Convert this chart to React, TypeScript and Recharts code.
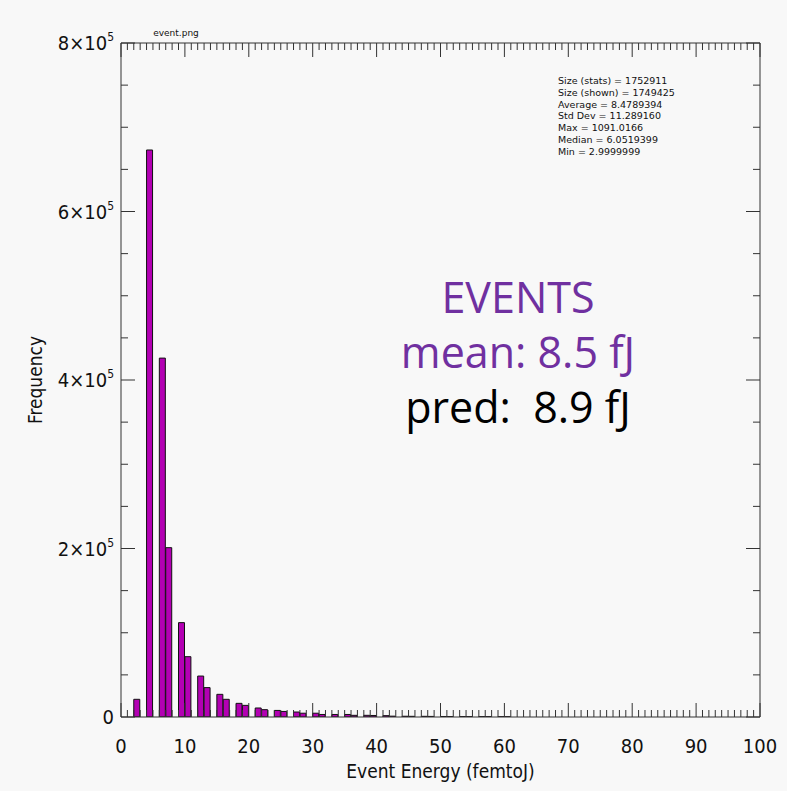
import { BarChart, Bar, XAxis, YAxis, ReferenceLine } from "recharts";

// histogram bins (lower edge, femtoJ) and their counts
const binStart = [
  2, 4, 6, 7, 9, 10, 12, 13, 15, 16, 18, 19, 21, 22, 24, 25, 27, 28, 30, 31,
  33, 35, 36, 38, 39, 41, 42, 44, 45, 47, 48, 50, 51, 53, 54, 56, 57, 59, 60,
];
const counts = [
  21000, 673000, 426000, 201000, 112000, 71600, 48600, 34900, 26900, 21000,
  16200, 13800, 10700, 8700, 7800, 6600, 5900, 4500, 4500, 3000, 3000, 3000,
  2000, 2000, 1800, 1600, 1000, 900, 800, 800, 700, 600, 500, 500, 400, 400,
  350, 300, 250,
];

// every 1 fJ gets a tick, the tens are major and labelled
const xTicks = Array.from({ length: 101 }, (_, i) => i);
const xMajorStep = 10;
// every 5e4 gets a tick, every 2e5 is major and labelled
const yTicks = Array.from({ length: 17 }, (_, i) => i * 50000);
const yMajorStep = 200000;
const yMax = 800000;

const statLines = [
  "Size (stats) = 1752911",
  "Size (shown) = 1749425",
  "Average = 8.4789394",
  "Std Dev = 11.289160",
  "Max = 1091.0166",
  "Median = 6.0519399",
  "Min = 2.9999999",
];

const rows = binStart.map((b, i) => ({ x: b + 0.5, count: counts[i] }));

const FONT = "'DejaVu Sans Condensed', 'DejaVu Sans', sans-serif";
const AXIS = "#333";
const MAJOR = 14;
const MINOR = 7;
const PLOT_TOP = 43;

// tick marks point into the plot; the tick anchor sits on the axis line
const tickLen = (v: number, step: number) => (v % step === 0 ? MAJOR : MINOR);

// bottom axis also draws the matching inward ticks along the top edge of the box
const BottomTick = ({ x, y, payload }: any) => {
  const v = payload.value;
  const len = tickLen(v, xMajorStep);
  return (
    <g>
      <line x1={x} x2={x} y1={y} y2={y - len} stroke={AXIS} />
      <line x1={x} x2={x} y1={PLOT_TOP} y2={PLOT_TOP + len} stroke={AXIS} />
      {v % xMajorStep === 0 && (
        <text x={x} y={y + 36} textAnchor="middle" fontFamily={FONT} fontSize={20} fill="#111">
          {v}
        </text>
      )}
    </g>
  );
};

const LeftTick = ({ x, y, payload }: any) => {
  const v = payload.value;
  const major = v % yMajorStep === 0;
  return (
    <g>
      <line x1={x} x2={x + tickLen(v, yMajorStep)} y1={y} y2={y} stroke={AXIS} />
      {major && v === 0 && (
        <text x={x - 7} y={y + 7} textAnchor="end" fontFamily={FONT} fontSize={20} fill="#111">
          0
        </text>
      )}
      {major && v !== 0 && (
        <text x={x - 7} y={y + 7} textAnchor="end" fontFamily={FONT} fontSize={20} fill="#111">
          {`${v / 100000}×10`}
          <tspan dy={-9} fontSize={12}>5</tspan>
        </text>
      )}
    </g>
  );
};

const RightTick = ({ x, y, payload }: any) => (
  <line x1={x} x2={x - tickLen(payload.value, yMajorStep)} y1={y} y2={y} stroke={AXIS} />
);

const YLabel = ({ viewBox }: any) => {
  const cx = 42;
  const cy = viewBox.y + viewBox.height / 2;
  return (
    <text x={cx} y={cy} transform={`rotate(-90 ${cx} ${cy})`} textAnchor="middle" fontFamily={FONT} fontSize={19} fill="#111">
      Frequency
    </text>
  );
};

const XLabel = ({ viewBox }: any) => (
  <text x={viewBox.x + viewBox.width / 2} y={778} textAnchor="middle" fontFamily={FONT} fontSize={19} fill="#111">
    Event Energy (femtoJ)
  </text>
);

export default function App() {
  return (
    <div style={{ position: "absolute", left: 0, top: 0, width: 787, height: 791, background: "#f8f8f8" }}>
      <BarChart
        width={787}
        height={791}
        data={rows}
        margin={{ top: PLOT_TOP, right: 26, bottom: 0, left: 0 }}
        barCategoryGap={0}
        barGap={0}
      >
        <XAxis
          xAxisId="main"
          dataKey="x"
          type="number"
          domain={[0, 100]}
          allowDataOverflow
          ticks={xTicks}
          interval={0}
          height={74}
          tickSize={0}
          tickMargin={0}
          tickLine={false}
          tick={<BottomTick />}
          stroke={AXIS}
          label={<XLabel />}
        />
        <YAxis
          yAxisId="main"
          type="number"
          domain={[0, yMax]}
          allowDataOverflow
          ticks={yTicks}
          interval={0}
          width={121}
          tickSize={0}
          tickMargin={0}
          tickLine={false}
          tick={<LeftTick />}
          stroke={AXIS}
          label={<YLabel />}
        />
        <YAxis
          yAxisId="right"
          orientation="right"
          type="number"
          domain={[0, yMax]}
          allowDataOverflow
          ticks={yTicks}
          interval={0}
          width={1}
          tickSize={0}
          tickMargin={0}
          tickLine={false}
          tick={<RightTick />}
          stroke={AXIS}
        />
        <ReferenceLine xAxisId="main" yAxisId="main" y={yMax} stroke={AXIS} />
        <Bar
          xAxisId="main"
          yAxisId="main"
          dataKey="count"
          fill="#b300b3"
          stroke="#111"
          strokeWidth={1}
          isAnimationActive={false}
        />
      </BarChart>
      <div style={{ position: "absolute", left: 150, top: 28, fontFamily: "'DejaVu Sans', sans-serif", fontSize: 9, color: "#111", width: 52, textAlign: "center" }}>
        event.png
      </div>
      <div style={{ position: "absolute", left: 558, top: 75, fontFamily: "'DejaVu Sans', sans-serif", fontSize: 9.5, lineHeight: "11.8px", color: "#111", whiteSpace: "pre" }}>
        {statLines.map((s) => (
          <div key={s}>{s}</div>
        ))}
      </div>
      <div style={{ position: "absolute", left: 318, top: 269, width: 400, textAlign: "center", fontFamily: "'Open Sans', Lato, sans-serif", fontSize: 43, lineHeight: "55px", whiteSpace: "pre" }}>
        <div style={{ color: "#7030a0" }}>EVENTS</div>
        <div style={{ color: "#7030a0" }}>mean: 8.5 fJ</div>
        <div style={{ color: "#000" }}>pred:  8.9 fJ</div>
      </div>
    </div>
  );
}
